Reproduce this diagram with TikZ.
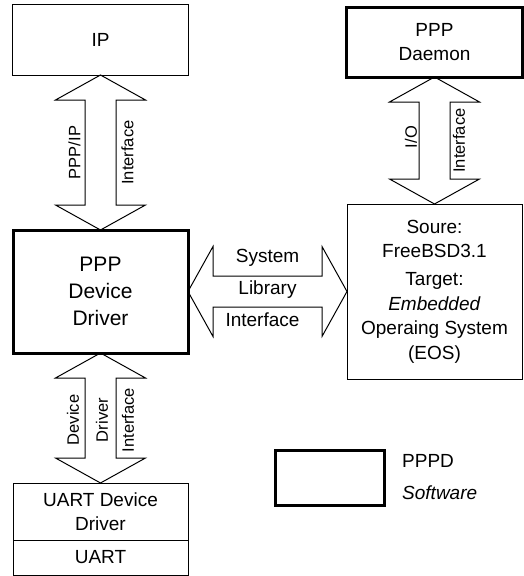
\documentclass[tikz,border=0pt]{standalone}
\usepackage{fontspec}
\setmainfont{Liberation Sans}
\usetikzlibrary{calc,positioning}

\tikzset{
    block/.style = {draw, rectangle, line width=1pt,
        inner sep=0pt, outer sep=0pt, align=center,
        font=\fontsize{19}{24.5}\selectfont},
    mainblock/.style = {block, line width=3pt},
    bigarrow/.style = {draw, line width=1pt, line join=miter},
    vlabel/.style = {rotate=90, inner sep=0pt, font=\fontsize{16.5}{20}\selectfont},
    hlabel/.style = {inner sep=0pt, font=\fontsize{19}{20}\selectfont}
}

\begin{document}
\begin{tikzpicture}[x=1pt,y=1pt]
  \useasboundingbox (0,0) rectangle (524,-576);
  % boxes
  \node[block, minimum width=176pt, minimum height=71pt] (ip) at (100.5,-39.5) {IP};
  \node[mainblock, minimum width=176pt, minimum height=70pt] (daemon) at (434.5,-42) {PPP\\Daemon};
  \node[mainblock, minimum width=175pt, minimum height=123pt,
        font=\fontsize{21}{27}\selectfont] (ppp) at (100.5,-291.5) {PPP\\Device\\Driver};
  \node[block, minimum width=175pt, minimum height=175pt] (eos) at (434.5,-291.5)
        {Soure:\\FreeBSD3.1\\[3.5pt]Target:\\\textit{Embedded}\\Operaing System\\(EOS)};
  \node[block, minimum width=175pt, minimum height=57pt] (uartdrv) at (100.5,-511.5) {UART Device\\Driver};
  \node[block, minimum width=175pt, minimum height=35pt, below=0pt of uartdrv] (uart) {UART};
  % legend
  \node[mainblock, minimum width=109pt, minimum height=55pt] (legend) at (329.5,-477.5) {};
  \node[right=18pt of legend, inner sep=0pt, align=left,
        font=\fontsize{19}{32}\selectfont] (legendtext) {PPPD\\\textit{Software}};
  % vertical block arrows
  \foreach \src/\dst in {ip/ppp,daemon/eos,ppp/uartdrv}{
    \draw[bigarrow] (\src.south) -- ++(-45,-25) -- ++(29.5,0)
      -- ($(\dst.north)+(-15.5,25)$) -- ++(-29.5,0) -- (\dst.north)
      -- ++(45,25) -- ++(-29.5,0)
      -- ($(\src.south)+(15.5,-25)$) -- ++(29.5,0) -- cycle;
  };
  % horizontal block arrow
  \draw[bigarrow] (ppp.east) -- ++(25,45) -- ++(0,-29.5)
    -- ($(eos.west)+(-25,15.5)$) -- ++(0,29.5) -- (eos.west)
    -- ++(-25,-45) -- ++(0,29.5)
    -- ($(ppp.east)+(25,-15.5)$) -- ++(0,-29.5) -- cycle;
  % arrow labels
  \node[vlabel] (ipl) at ($(ip.south)!0.5!(ppp.north)+(-26,0)$) {PPP/IP};
  \node[vlabel] (ipr) at ($(ip.south)!0.5!(ppp.north)+(27,0)$) {Interface};
  \node[vlabel] (iol) at ($(daemon.south)!0.5!(eos.north)+(-23.5,3.5)$) {I/O};
  \node[vlabel] (ior) at ($(daemon.south)!0.5!(eos.north)+(24.5,0)$) {Interface};
  \node[vlabel] (ddl) at ($(ppp.south)!0.5!(uartdrv.north)+(-27.5,-2)$) {Device};
  \node[vlabel] (ddm) at ($(ppp.south)!0.5!(uartdrv.north)+(1.5,-2)$) {Driver};
  \node[vlabel] (ddr) at ($(ppp.south)!0.5!(uartdrv.north)+(27.5,-2)$) {Interface};
  \node[hlabel] (sys) at ($(ppp.east)!0.5!(eos.west)+(0,33.5)$) {System};
  \node[hlabel] (lib) at ($(ppp.east)!0.5!(eos.west)+(0,1.5)$) {Library};
  \node[hlabel] (itf) at ($(ppp.east)!0.5!(eos.west)+(-5,-28.5)$) {Interface};
\end{tikzpicture}
\end{document}
